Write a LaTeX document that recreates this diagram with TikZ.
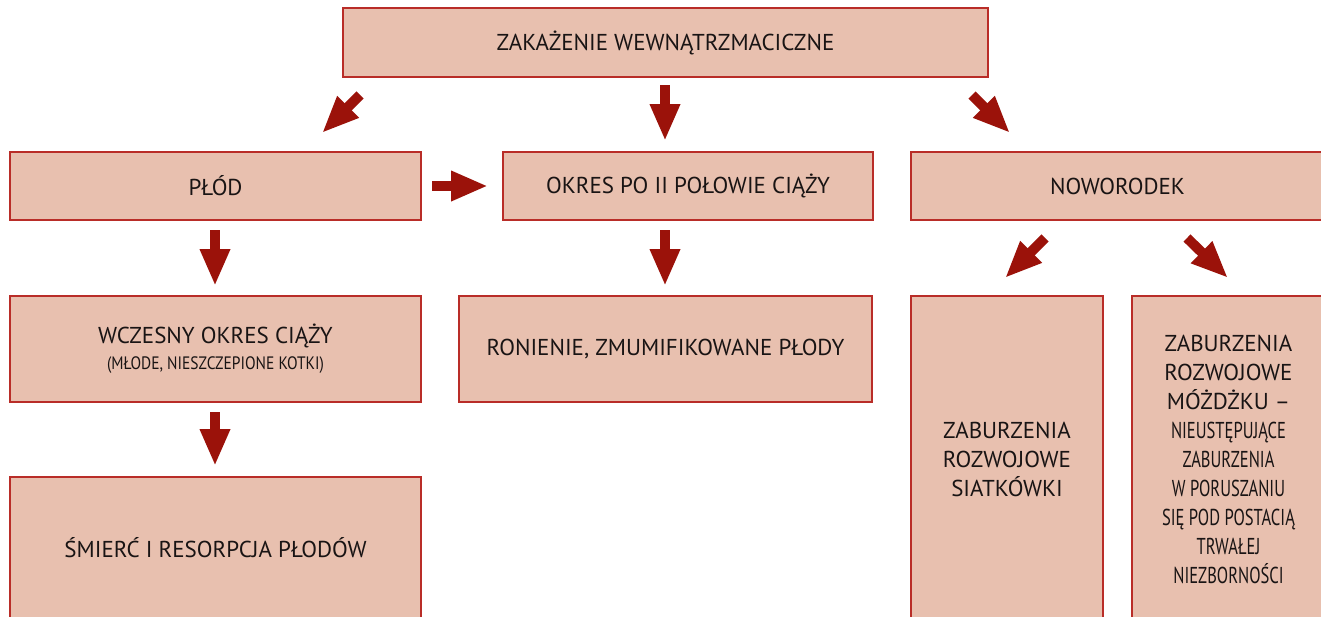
\documentclass[tikz,border=0pt]{standalone}
\usepackage{fontspec}
\setmainfont{PT Sans}
\newfontfamily\condfont[FakeStretch=0.72]{PT Sans}
\newfontfamily\smallcond[FakeStretch=0.86]{PT Sans}
\usetikzlibrary{arrows.meta}
\definecolor{boxfill}{RGB}{232,192,175}
\definecolor{boxline}{RGB}{185,45,40}
\definecolor{arr}{RGB}{155,18,10}
\definecolor{txt}{RGB}{25,20,20}
\begin{document}
\begin{tikzpicture}[x=1pt,y=-1pt,
  box/.style={draw=boxline, line width=2pt, fill=boxfill, inner sep=0pt,
    align=center, text=txt, font=\fontsize{23}{29}\selectfont},
  blockarrow/.style={draw=arr, line width=10pt, -{Triangle[length=37pt,width=28pt]}}]
\useasboundingbox (0,0) rectangle (1321,616);
\clip (0,0) rectangle (1321,616);
\fill[white] (0,0) rectangle (1321,616);
% nodes
\node[box, minimum width=645pt, minimum height=69pt] (top) at (665.5,42.5) {ZAKAŻENIE WEWNĄTRZMACICZNE};
\node[box, minimum width=411pt, minimum height=68pt] (plod) at (215.5,186) {PŁÓD};
\node[box, minimum width=370pt, minimum height=68pt] (okres) at (688,186) {OKRES PO II POŁOWIE CIĄŻY};
\node[box, minimum width=413pt, minimum height=68pt] (noworodek) at (1117.5,186) {NOWORODEK};
\node[box, minimum width=411pt, minimum height=106pt] (wczesny) at (215.5,349) {WCZESNY OKRES CIĄŻY\\[-3pt]{\smallcond\fontsize{18}{24}\selectfont (MŁODE, NIESZCZEPIONE KOTKI)}};
\node[box, minimum width=413pt, minimum height=106pt] (ronienie) at (665.5,349) {RONIENIE, ZMUMIFIKOWANE PŁODY};
\node[box, minimum width=411pt, minimum height=141pt] (smierc) at (215.5,547.5) {ŚMIERĆ I RESORPCJA PŁODÓW};
\node[box, minimum width=192pt, minimum height=326pt] (siatkowki) at (1007,459) {ZABURZENIA\\ROZWOJOWE\\SIATKÓWKI};
\node[box, minimum width=193pt, minimum height=326pt] (mozdzku) at (1228.5,459) {ZABURZENIA\\ROZWOJOWE\\MÓŻDŻKU –\\{\condfont NIEUSTĘPUJĄCE}\\{\condfont ZABURZENIA}\\{\condfont W PORUSZANIU}\\{\condfont SIĘ POD POSTACIĄ}\\{\condfont TRWAŁEJ}\\{\condfont NIEZBORNOŚCI}};
% arrow end points
\coordinate (a1s) at (360,95);  \coordinate (a1e) at (322,133);
\coordinate (a2s) at (665,85);  \coordinate (a2e) at (665,141);
\coordinate (a3s) at (972,95);  \coordinate (a3e) at (1010,133);
\coordinate (a4s) at (432,186); \coordinate (a4e) at (488,186);
\coordinate (a5s) at (215,230); \coordinate (a5e) at (215,286);
\coordinate (a6s) at (665,230); \coordinate (a6e) at (665,286);
\coordinate (a7s) at (1045,238); \coordinate (a7e) at (1005,278);
\coordinate (a8s) at (1187,238); \coordinate (a8e) at (1228,278);
\coordinate (a9s) at (215,412); \coordinate (a9e) at (215,466);
\foreach \i in {1,...,9} {\draw[blockarrow] (a\i s) -- (a\i e);}
\end{tikzpicture}
\end{document}
